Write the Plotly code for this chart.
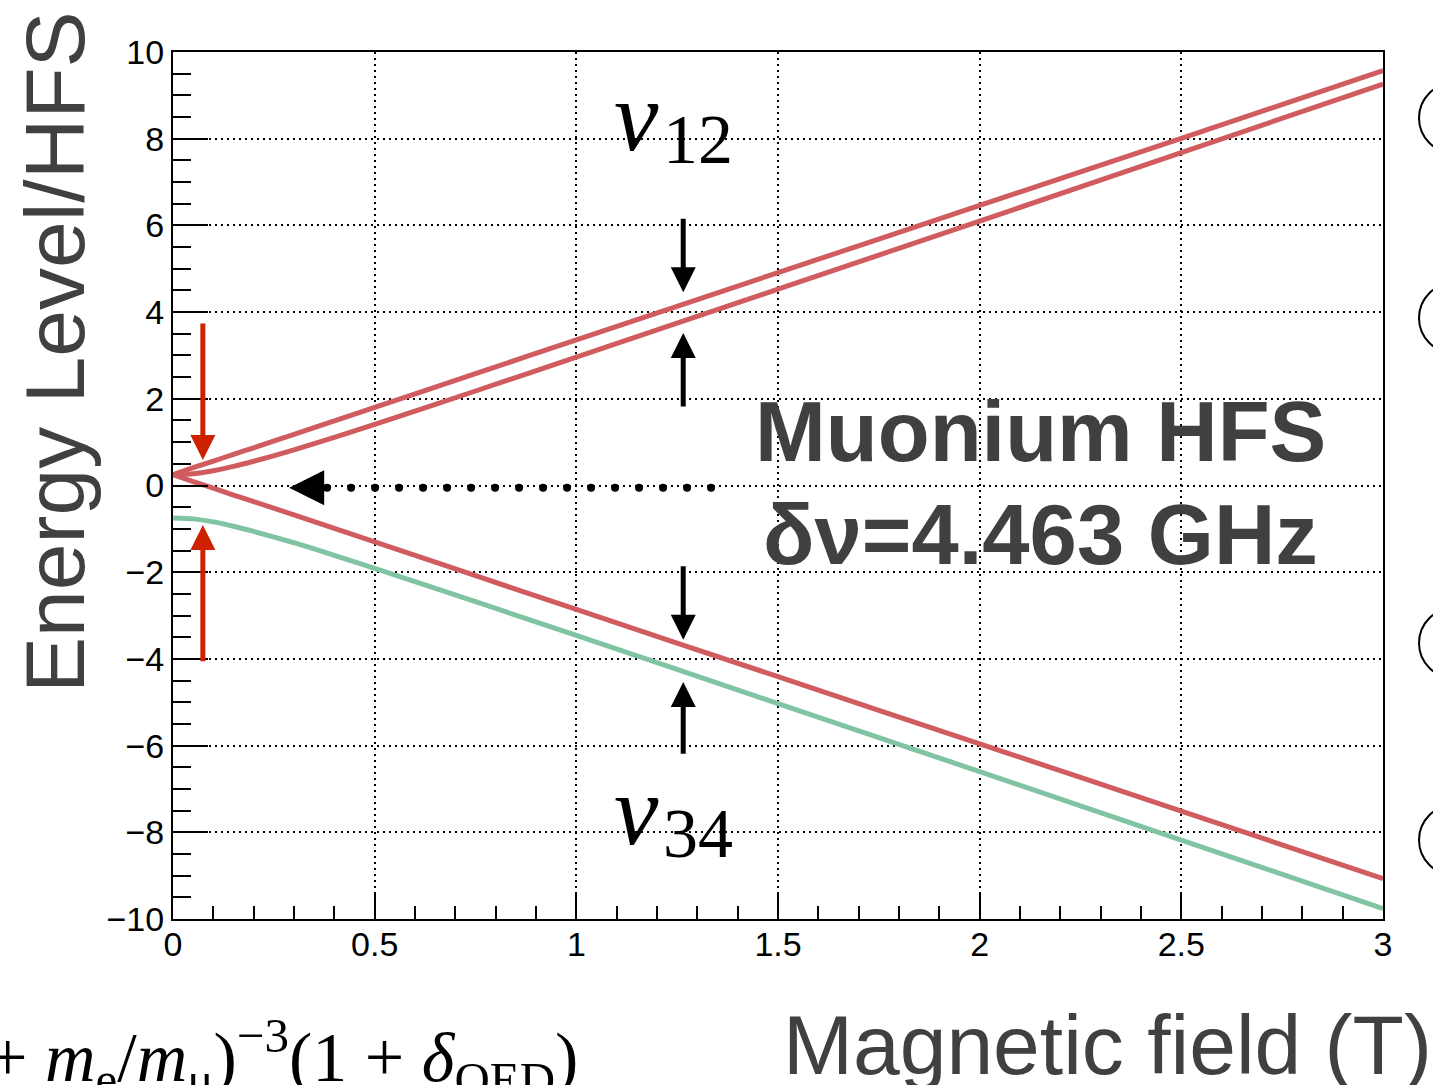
import numpy as np
import plotly.graph_objects as go

# ---- data ----
field_T = [0, 0.05, 0.1, 0.15, 0.2, 0.3, 0.4, 0.5, 0.75, 1.0, 1.5, 2.0, 2.5, 3.0]
level_up_p1 = [0.25, 0.41, 0.56, 0.72, 0.87, 1.18, 1.49, 1.80, 2.58, 3.36, 4.91, 6.46, 8.01, 9.57]
level_up_0 = [0.25, 0.27, 0.34, 0.44, 0.56, 0.82, 1.11, 1.41, 2.18, 2.96, 4.53, 6.10, 7.68, 9.26]
level_up_m1 = [0.25, 0.09, -0.06, -0.22, -0.37, -0.68, -0.99, -1.30, -2.08, -2.86, -4.41, -5.96, -7.51, -9.07]
level_low = [-0.75, -0.77, -0.84, -0.94, -1.06, -1.32, -1.61, -1.91, -2.68, -3.46, -5.03, -6.60, -8.18, -9.76]

x_ticks = [0, 0.5, 1, 1.5, 2, 2.5, 3]
x_tick_labels = ["0", "0.5", "1", "1.5", "2", "2.5", "3"]
y_ticks = [-10, -8, -6, -4, -2, 0, 2, 4, 6, 8, 10]
y_tick_labels = ["\u221210", "\u22128", "\u22126", "\u22124", "\u22122", "0", "2", "4", "6", "8", "10"]

RED = "#d05c5f"
GREEN = "#80c4a3"
ARROW_RED = "#cc2200"
TXT = "#404040"

fig = go.Figure()
for ys, col in [(level_up_p1, RED), (level_up_0, RED), (level_up_m1, RED), (level_low, GREEN)]:
    fig.add_trace(go.Scatter(x=field_T, y=ys, mode="lines",
                             line=dict(color=col, width=5, shape="spline", smoothing=0.6),
                             showlegend=False, hoverinfo="skip"))

# dotted arrow (pointing toward zero field)
dot_start, dot_end, dot_step, dot_y = 0.382, 1.336, 0.0595, -0.05
dots_x = np.arange(dot_start, dot_end + 1e-6, dot_step)
fig.add_trace(go.Scatter(x=dots_x, y=[dot_y] * len(dots_x), mode="markers",
                         marker=dict(color="black", size=8), showlegend=False, hoverinfo="skip"))

annotations = []
# black and red arrows: (x_tail, y_tail, x_tip, y_tip, color)
arrows = [
    (1.265, 6.19, 1.265, 4.46, "black"),
    (1.265, 1.79, 1.265, 3.52, "black"),
    (1.265, -1.83, 1.265, -3.56, "black"),
    (1.265, -6.22, 1.265, -4.53, "black"),
    (0.074, 3.77, 0.074, 0.59, ARROW_RED),
    (0.074, -4.09, 0.074, -0.91, ARROW_RED),
]
for xt, yt, xh, yh, c in arrows:
    annotations.append(dict(x=xh, y=yh, ax=xt, ay=yt, xref="x", yref="y", axref="x", ayref="y",
                            text="", showarrow=True, arrowhead=2, arrowsize=1.0, arrowwidth=5,
                            arrowcolor=c))
# dotted arrow head
annotations.append(dict(x=0.288, y=dot_y, ax=40, ay=0, xref="x", yref="y",
                        text="", showarrow=True, arrowhead=2, arrowsize=7, arrowwidth=1,
                        arrowcolor="black"))

# nu labels
serif = "Liberation Serif"
for lab, sub, y in [("\u03bd", "12", 7.79), ("\u03bd", "34", -8.22)]:
    annotations.append(dict(x=1.21, y=y - 0.6, xref="x", yref="y", text="<i>" + lab + "</i>",
                            showarrow=False, xanchor="right", yanchor="bottom",
                            font=dict(family=serif, size=100, color="black")))
    annotations.append(dict(x=1.21, y=y - 0.74, xref="x", yref="y", text=sub,
                            showarrow=False, xanchor="left", yanchor="bottom",
                            font=dict(family=serif, size=70, color="black")))

# Muonium HFS text
annotations.append(dict(x=2.152, y=1.25, xref="x", yref="y", text="<b>Muonium HFS</b>",
                        showarrow=False, xanchor="center", yanchor="middle",
                        font=dict(family="Liberation Sans", size=85, color=TXT)))
annotations.append(dict(x=2.152, y=-1.13, xref="x", yref="y", text="<b>\u03b4\u03bd=4.463 GHz</b>",
                        showarrow=False, xanchor="center", yanchor="middle",
                        font=dict(family="Liberation Sans", size=85, color=TXT)))

# axis titles
annotations.append(dict(x=-0.0975, y=0.654, xref="paper", yref="paper", text="Energy Level/HFS",
                        textangle=-90, showarrow=False, xanchor="center", yanchor="middle",
                        font=dict(family="Liberation Sans", size=84, color=TXT)))
annotations.append(dict(x=0.5025, y=-0.145, xref="paper", yref="paper", text="Magnetic field (T)",
                        showarrow=False, xanchor="left", yanchor="middle",
                        font=dict(family="Liberation Sans", size=84, color=TXT)))

# partial formula at bottom left
annotations.append(dict(x=0.336, y=-0.219, xref="paper", yref="paper",
                        text="+ <i>m</i><sub>e</sub>/<i>m</i><sub>\u03bc</sub>)<sup>\u22123</sup>(1 + <i>\u03b4</i><sub>QED</sub>)",
                        showarrow=False, xanchor="right", yanchor="bottom",
                        font=dict(family=serif, size=70, color="black")))

# partial circles at the right edge
shapes = []
for cy in [118, 318, 643, 840]:
    r = 35
    shapes.append(dict(type="circle", xref="paper", yref="paper",
                       x0=(1419 - 173) / 1210, x1=(1419 + 2 * r - 173) / 1210,
                       y0=(919 - (cy + r)) / 867, y1=(919 - (cy - r)) / 867,
                       line=dict(color="black", width=2)))

fig.update_layout(
    width=1433, height=1085,
    margin=dict(l=173, r=50, t=52, b=166),
    paper_bgcolor="white", plot_bgcolor="white",
    annotations=annotations, shapes=shapes,
    xaxis=dict(range=[0, 3], tickvals=x_ticks, ticktext=x_tick_labels,
               ticks="inside", ticklen=25, tickwidth=2, tickcolor="black",
               minor=dict(dtick=0.1, tick0=0, ticks="inside", ticklen=13, tickwidth=2, tickcolor="black", showgrid=False),
               showline=True, linewidth=2, linecolor="black", mirror=True,
               showgrid=True, gridcolor="black", gridwidth=1.5, griddash="2px,4px",
               zeroline=False, tickfont=dict(family="Liberation Sans", size=34, color="black"),
               ticklabelstandoff=-6),
    yaxis=dict(range=[-10, 10], tickvals=y_ticks, ticktext=y_tick_labels,
               ticks="inside", ticklen=35, tickwidth=2, tickcolor="black",
               minor=dict(dtick=0.5, tick0=0, ticks="inside", ticklen=18, tickwidth=2, tickcolor="black", showgrid=False),
               showline=True, linewidth=2, linecolor="black", mirror=True,
               showgrid=True, gridcolor="black", gridwidth=1.5, griddash="2px,4px",
               zeroline=False, tickfont=dict(family="Liberation Sans", size=34, color="black"),
               ticklabelstandoff=0),
)

fig.write_html("out.html", config={"displayModeBar": False},
               post_script="document.body.style.margin='0';document.body.style.overflow='hidden';")
